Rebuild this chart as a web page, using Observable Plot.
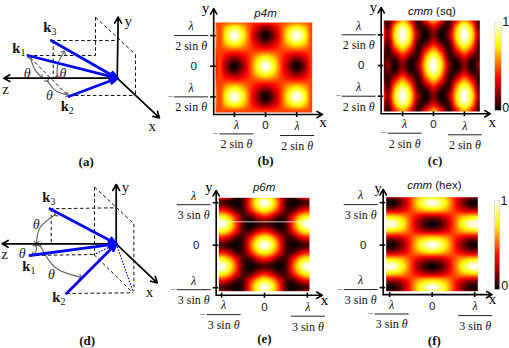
<!DOCTYPE html>
<html><head><meta charset="utf-8">
<script src="https://cdn.jsdelivr.net/npm/d3@7"></script>
<script src="https://cdn.jsdelivr.net/npm/@observablehq/plot@0.6"></script>
<style>html,body{margin:0;background:#fff}#page{position:relative;width:509px;height:348px;overflow:hidden}</style>
</head><body><div id="page"></div>
<script>
// ---------- data: heat-map samples ----------
const squareXs = [-1.5,-1.25,-1,-.75,-.5,-.25,0,.25,.5,.75,1,1.25,1.5];
const squareYs = [1.5,1.25,1,.75,.5,.25,0,-.25,-.5,-.75,-1,-1.25,-1.5];
const hexXs = [-1,-5/6,-2/3,-1/2,-1/3,-1/6,0,1/6,1/3,1/2,2/3,5/6,1];
const hexYs = [1,5/6,2/3,1/2,1/3,1/6,0,-1/6,-1/3,-1/2,-2/3,-5/6,-1];

const a0 = [.46,.46,.46,.46,.46,.46,.46,.46,.46,.46,.46,.46,.46];
const a1 = [.46,.68,.8,.68,.46,.28,.17,.28,.46,.68,.8,.68,.46];
const a2 = [.46,.8,1,.8,.46,.17,0,.17,.46,.8,1,.8,.46];
const a3 = [.46,.28,.17,.28,.46,.68,.8,.68,.46,.28,.17,.28,.46];
const a4 = [.46,.17,0,.17,.46,.8,1,.8,.46,.17,0,.17,.46];
const p4mRows = [a0,a1,a2,a1,a0,a3,a4,a3,a0,a1,a2,a1,a0];

const b0 = [.05,.38,.62,.38,.05,.38,.62,.38,.05,.38,.62,.38,.05];
const b1 = [.1,.62,.9,.62,.1,.1,.32,.1,.1,.62,.9,.62,.1];
const b2 = [.2,.72,1,.72,.2,0,.18,0,.2,.72,1,.72,.2];
const b3 = [.1,.1,.32,.1,.1,.62,.9,.62,.1,.1,.32,.1,.1];
const b4 = [.2,0,.18,0,.2,.72,1,.72,.2,0,.18,0,.2];
const cmmSqRows = [b0,b1,b2,b1,b0,b3,b4,b3,b0,b1,b2,b1,b0];

const c0 = [.1,.05,0,.1,.48,.82,1,.82,.48,.1,0,.05,.1];
const c1 = [.38,.28,.1,.1,.38,.65,.78,.65,.38,.1,.1,.28,.38];
const c2 = [.78,.65,.38,.1,.1,.28,.38,.28,.1,.1,.38,.65,.78];
const c3 = [1,.82,.48,.1,0,.05,.1,.05,0,.1,.48,.82,1];
const p6mRows = [c0,c1,c2,c3,c2,c1,c0,c1,c2,c3,c2,c1,c0];

const d0 = [0,.07,.22,.46,.72,.9,1,.9,.72,.46,.22,.07,0];
const d1 = [.22,.25,.33,.46,.6,.68,.72,.68,.6,.46,.33,.25,.22];
const d2 = [.72,.68,.6,.46,.33,.25,.22,.25,.33,.46,.6,.68,.72];
const d3 = [1,.9,.72,.46,.22,.07,0,.07,.22,.46,.72,.9,1];
const cmmHexRows = [d0,d1,d2,d3,d2,d1,d0,d1,d2,d3,d2,d1,d0];

const tickValues = [-1,0,1];
const hotStops = [0,.365,.746,1];
const hotColors = ["#0a0000","#ff0000","#ffff00","#ffffff"];

// ---------- data: the two 3-D schematics, in diagram units ----------
const axesA = [["z",-113.3,0],["y",1,61],["x",42.3,-39.7]];
const beamsA = [[-89.3,22.7],[-66,37.7],[-48.3,-18.3]];
const dashesA = [[-66,37.7,0,37.7],[-64,37.7,-64,0],[-89.3,22.7,-21.7,22.7],[-86.7,20.3,-48.3,-18.3],[-48.3,-17.3,18.3,-17.3],[-21.7,61,-21.7,22.7],[-21.7,61,18.3,23.7],[18.3,23.7,18.3,-17.3]];
const arcsA = [[[-86.7,20.3],[-82.7,9.3],[-76,1]],[[-70,-2.3],[-61.7,-12.3],[-50,-16.7]],[[-60,1.7],[-59.3,14.3],[-53.3,26]]];
const thetaA = [[-90,5],[-54.3,5],[-67.7,-17.3]];
const kLabelsA = [["k1",-98.3,30.3],["k2",-50,-28.3],["k3",-67.3,51]];
const axisLabelsA = [["z",-111.7,-10.7],["y",11,57],["x",35,-48.3]];

const axesD = [["z",-114,0],["y",0,59.3],["x",41,-39]];
const beamsD = [[-66.3,35],[-86.3,-11.7],[-49.7,-49.7]];
const dottedD = [[16.7,-47.3],[-22.3,-10.7]];
const dashesD = [[-66.3,35,0,36],[-65,35,-65,0],[-86.3,-11.7,-20.7,-10.7],[-22.3,-10.7,16.7,-49],[-49.7,-49.7,16.7,-49],[-21.7,56.7,-21.7,-10.7],[-21.7,56.7,17.7,20],[17.7,20,17.7,-47.3]];
const arcsD = [[[-60.7,29.3],[-76.3,16],[-79.7,1]],[[-80.7,-1.3],[-79.7,-5.7],[-82.3,-10.7]],[[-76.3,-1.3],[-60.7,-24],[-35.7,-33.3]]];
const thetaD = [[-80,19.3],[-94,-9.7],[-64.7,-30.7]];
const kLabelsD = [["k1",-87.3,-23],["k2",-57.3,-53.3],["k3",-67.3,46]];
const axisLabelsD = [["z",-111.7,-10],["y",9.3,56.7],["x",33.3,-48]];

// ---------- layout & style ----------
const SERIF = "Liberation Serif", SANS = "Liberation Sans";
const color = {type:"linear", domain:hotStops, range:hotColors};
const page = document.getElementById("page");

function richify(svg){
  svg.querySelectorAll("text").forEach(el=>{
    const targets = el.querySelectorAll("tspan").length ? [...el.querySelectorAll("tspan")] : [el];
    targets.forEach(t=>{
      const s = t.textContent;
      const mk = (txt,attrs)=>{const n=document.createElementNS("http://www.w3.org/2000/svg","tspan");n.textContent=txt;for(const k in attrs)n.setAttribute(k,attrs[k]);return n;};
      if(/^k\d$/.test(s)){
        t.textContent="";
        t.appendChild(mk("k",{}));
        t.appendChild(mk(s[1],{"font-weight":"normal","font-size":"10","dy":"3"}));
      } else if(/θ$/.test(s) && s.length>1){
        t.textContent="";
        t.appendChild(mk(s.slice(0,-1),{}));
        t.appendChild(mk("θ",{"font-style":"italic"}));
      } else if(/^cmm /.test(s)){
        t.textContent="";
        t.appendChild(mk("cmm",{"font-style":"italic"}));
        t.appendChild(mk(s.slice(3),{}));
      }
    });
  });
  return svg;
}
function place(box, options){
  const svg = Plot.plot({...options, width:box.w, height:box.h,
    style:{position:"absolute",left:box.l+"px",top:box.t+"px",overflow:"visible",background:"transparent"}});
  page.appendChild(richify(svg));
}
function grid(xs, ys, rows){
  return rows.flatMap((row,j)=>row.map((v,i)=>({x:xs[i],y:ys[j],v})));
}
// smooth (Catmull-Rom) interpolation between the samples of a regular 13x13 table
function smooth(index,width,height,X,Y,V){
  const n=13, x0=X[index[0]], dx=X[index[1]]-x0, y0=Y[index[0]], dy=Y[index[n]]-y0;
  const mir=i=>i<0?-i:i>n-1?2*(n-1)-i:i;
  const at=(i,j)=>V[index[mir(j)*n+mir(i)]];
  const cr=(a,b,c,d,t)=>b+.5*t*(c-a+t*(2*a-5*b+4*c-d+t*(3*(b-c)+d-a)));
  const out=new Float64Array(width*height);
  for(let py=0;py<height;py++)for(let px=0;px<width;px++){
    const fx=(px+.5-x0)/dx, fy=(py+.5-y0)/dy;
    const i=Math.max(0,Math.min(n-2,Math.floor(fx))), j=Math.max(0,Math.min(n-2,Math.floor(fy)));
    const tx=fx-i, ty=fy-j, col=[];
    for(let m=-1;m<=2;m++) col.push(cr(at(i-1,j+m),at(i,j+m),at(i+1,j+m),at(i+2,j+m),tx));
    out[py*width+px]=Math.max(0,Math.min(1,cr(col[0],col[1],col[2],col[3],ty)));
  }
  return out;
}

function heatPanel(p){
  const {box,heat,xDom,yDom,ax,ay,top,right,ux,uy}=p;
  const fracSerif={fontFamily:SERIF,fontSize:12,fill:"#111",lineAnchor:"middle"};
  const tk=tickValues.filter(d=>d!==0);
  const xBar=d=>d<0?19.4:21, xCx=d=>d<0?2:0.5;
  const yBar=p.yShift;
  const marks=[
    Plot.raster(p.table,{x:"x",y:"y",fill:"v",interpolate:smooth,
      x1:xDom[0],x2:xDom[1],y1:yDom[0],y2:yDom[1],pixelSize:1}),
  ];
  if(p.whiteLine!=null) marks.push(Plot.ruleY([p.whiteLine],{x1:xDom[0],x2:xDom[1],stroke:"#fff",strokeOpacity:.75,strokeWidth:1}));
  marks.push(
    Plot.arrow([{}],{x1:ax,y1:ay,x2:ax,y2:top,strokeWidth:1.6,stroke:"#000",headLength:6}),
    Plot.arrow([{}],{x1:ax,y1:ay,x2:right,y2:ay,strokeWidth:1.6,stroke:"#000",headLength:6}),
    Plot.ruleY(tickValues,{y:d=>d,x1:ax-3/ux,x2:ax+2.5/ux,stroke:"#000",strokeWidth:1.6}),
    Plot.ruleX(tickValues,{x:d=>d,y1:ay-3/uy,y2:ay+2/uy,stroke:"#000",strokeWidth:1.6}),
    Plot.text([0],{x:d=>d,y:ay,dy:p.zeroDy,text:()=>"0",fontFamily:SANS,fontSize:11.5,fill:"#111"}),
    Plot.text([0],{x:ax,y:d=>d,dx:-20,text:()=>"0",fontFamily:SANS,fontSize:11.5,fill:"#111"}),
    // y-axis fractions
    Plot.link(tk,{x1:ax-39.5/ux,x2:ax-5.5/ux,y1:d=>d-yBar/uy,y2:d=>d-yBar/uy,stroke:"#222",strokeWidth:1}),
    Plot.text(tk,{x:ax-22.5/ux,y:d=>d-yBar/uy,dy:-9,text:()=>"λ",fontStyle:"italic",...fracSerif}),
    Plot.text(tk,{x:ax-22.5/ux,y:d=>d-yBar/uy,dy:10.5,text:()=>p.den,...fracSerif}),
    Plot.text([-1],{x:ax-43/ux,y:d=>d-yBar/uy,text:()=>"−",fontFamily:SERIF,fontSize:10,fill:"#555"}),
    // x-axis fractions
    Plot.link(tk,{x1:d=>d+(xCx(d)-17)/ux,x2:d=>d+(xCx(d)+17)/ux,y1:d=>ay-xBar(d)/uy,y2:d=>ay-xBar(d)/uy,stroke:"#222",strokeWidth:1}),
    Plot.text(tk,{x:d=>d+xCx(d)/ux,y:d=>ay-xBar(d)/uy,dy:-9,text:()=>"λ",fontStyle:"italic",...fracSerif}),
    Plot.text(tk,{x:d=>d+xCx(d)/ux,y:d=>ay-xBar(d)/uy,dy:10.5,text:()=>p.den,...fracSerif}),
    Plot.text([-1],{x:d=>d+(xCx(d)-21)/ux,y:d=>ay-xBar(d)/uy,text:()=>"−",fontFamily:SERIF,fontSize:10,fill:"#555"}),
    // axis letters
    Plot.text([p.letterY],{x:d=>d[0],y:d=>d[1],text:()=>"y",fontFamily:SERIF,fontSize:14.5,fill:"#000"}),
    Plot.text([p.letterX],{x:d=>d[0],y:d=>d[1],text:()=>"x",fontFamily:SERIF,fontSize:15,fill:"#000"}),
    // title and panel label
    Plot.text([p.titlePos],{x:d=>d[0],y:d=>d[1],text:()=>p.title,fontFamily:SANS,fontSize:11.5,fontStyle:/^p/.test(p.title)?"italic":"normal",fill:"#111"}),
    Plot.text([p.tagPos],{x:d=>d[0],y:d=>d[1],text:()=>p.tag,fontFamily:SERIF,fontSize:13,fontWeight:"bold",fill:"#111"})
  );
  place(box,{marginLeft:heat[0]-box.l,marginRight:box.l+box.w-heat[1],marginTop:heat[2]-box.t,marginBottom:box.t+box.h-heat[3],
    x:{axis:null,domain:xDom},y:{axis:null,domain:yDom},color,marks});
}

function colorBar(box,bar,labels){
  place(box,{marginLeft:bar[0]-box.l,marginRight:box.l+box.w-bar[1],marginTop:bar[2]-box.t,marginBottom:box.t+box.h-bar[3],
    x:{axis:null,domain:[0,1]},y:{axis:null,domain:[0,1]},color,marks:[
      Plot.raster({fill:(x,y)=>y,x1:0,x2:1,y1:0,y2:1,pixelSize:1}),
      Plot.frame({stroke:"#ccc",strokeWidth:.6}),
      Plot.text(labels,{x:d=>d[1],y:d=>d[2],text:d=>d[0],fontFamily:SANS,fontSize:12.5,fill:"#111"})
    ]});
}

function schematic(s){
  const toSeg=a=>a.map(d=>({x1:d[0],y1:d[1],x2:d[2],y2:d[3]}));
  const txt=(arr,o)=>Plot.text(arr,{x:d=>d[1],y:d=>d[2],text:d=>d[0],...o});
  const marks=[
    Plot.link(toSeg(s.dashes),{x1:"x1",y1:"y1",x2:"x2",y2:"y2",stroke:"#111",strokeWidth:1,strokeDasharray:"3.5,2.5"}),
    ...s.arcs.map(a=>Plot.line(a,{x:d=>d[0],y:d=>d[1],curve:"catmull-rom",stroke:"#666",strokeWidth:1.2,markerStart:"arrow",markerEnd:"arrow"})),
    Plot.arrow(s.axes,{x1:()=>0,y1:()=>0,x2:d=>d[1],y2:d=>d[2],stroke:"#000",strokeWidth:1.7,headLength:6})
  ];
  if(s.dotted) marks.push(Plot.link(s.dotted,{x1:()=>0,y1:()=>0,x2:d=>d[0],y2:d=>d[1],stroke:"#0000e6",strokeWidth:1.2,strokeDasharray:"1.5,1.5"}));
  marks.push(
    Plot.arrow(s.beams,{x1:d=>d[0],y1:d=>d[1],x2:()=>0,y2:()=>0,stroke:"#0808f0",strokeWidth:2.8,headLength:4,headAngle:45}),
    Plot.text(s.theta,{x:d=>d[0],y:d=>d[1],text:()=>"θ",fontFamily:SERIF,fontStyle:"italic",fontSize:14,fill:"#222"}),
    txt(s.kLabels,{fontFamily:SERIF,fontWeight:"bold",fontSize:14.5,fill:"#111"}),
    txt(s.axisLabels,{fontFamily:SERIF,fontSize:15,fill:"#111"}),
    Plot.text([s.tagPos],{x:d=>d[0],y:d=>d[1],text:()=>s.tag,fontFamily:SERIF,fontSize:13,fontWeight:"bold",fill:"#111"})
  );
  place(s.box,{margin:0,x:{axis:null,domain:s.xDom},y:{axis:null,domain:s.yDom},marks});
}

// ---------- build ----------
schematic({box:{l:0,t:0,w:165,h:174},xDom:[-116.7,48.3],yDom:[-96.3,77.7],axes:axesA,beams:beamsA,dashes:dashesA,arcs:arcsA,theta:thetaA,kLabels:kLabelsA,axisLabels:axisLabelsA,tag:"(a)",tagPos:[-31,-84]});
schematic({box:{l:0,t:174,w:165,h:174},xDom:[-115.7,49.3],yDom:[-104.7,69.3],axes:axesD,beams:beamsD,dotted:dottedD,dashes:dashesD,arcs:arcsD,theta:thetaD,kLabels:kLabelsD,axisLabels:axisLabelsD,tag:"(d)",tagPos:[-29,-97.3]});

heatPanel({box:{l:165,t:0,w:170,h:174},heat:[215,311.7,22,112],xDom:[-1.61,1.5],yDom:[-1.51,1.426],ux:31,uy:30.65,
  ax:-1.668,ay:-1.576,top:1.88,right:1.83,table:grid(squareXs,squareYs,p4mRows),den:"2 sin θ",yShift:0,zeroDy:11,
  letterY:[-1.93,1.9],letterX:[1.85,-1.82],title:"p4m",titlePos:[0,1.73],tag:"(b)",tagPos:[0,-3.1]});
heatPanel({box:{l:335,t:0,w:174,h:174},heat:[383.3,479.3,20,111],xDom:[-1.61,1.5],yDom:[-1.498,1.466],ux:30.85,uy:30.7,
  ax:-1.695,ay:-1.573,top:1.89,right:1.84,table:grid(squareXs,squareYs,cmmSqRows),den:"2 sin θ",yShift:0,zeroDy:11,
  letterY:[-1.95,1.9],letterX:[1.9,-1.83],title:"cmm (sq)",titlePos:[-.05,1.77],tag:"(c)",tagPos:[.05,-3.1]});
heatPanel({box:{l:165,t:174,w:170,h:174},heat:[218.3,309,197.3,290.7],xDom:[-1.066,1.05],yDom:[-1.082,1.115],ux:42.85,uy:42.5,
  ax:-1.127,ay:-1.176,top:1.287,right:1.347,table:grid(hexXs,hexYs,p6mRows),den:"3 sin θ",yShift:2,zeroDy:12.3,whiteLine:.55,
  letterY:[-1.3,1.37],letterX:[1.4,-1.3],title:"p6m",titlePos:[-.01,1.37],tag:"(e)",tagPos:[0,-2.2]});
heatPanel({box:{l:335,t:174,w:174,h:174},heat:[385.7,477.3,196.7,290.7],xDom:[-1.082,1.073],yDom:[-1.085,1.127],ux:42.5,uy:42.5,
  ax:-1.153,ay:-1.165,top:1.31,right:1.41,table:grid(hexXs,hexYs,cmmHexRows),den:"3 sin θ",yShift:2,zeroDy:12,
  letterY:[-1.27,1.33],letterX:[1.42,-1.28],title:"cmm (hex)",titlePos:[.05,1.4],tag:"(f)",tagPos:[.05,-2.26]});

colorBar({l:490,t:10,w:19,h:110},[494.3,500.7,21.7,110],[["1",1.72,1],["0",1.72,.03]]);
colorBar({l:490,t:190,w:19,h:110},[494,499.3,200,289],[["1",1.8,.99],["0",1.95,.04]]);
</script></body></html>
